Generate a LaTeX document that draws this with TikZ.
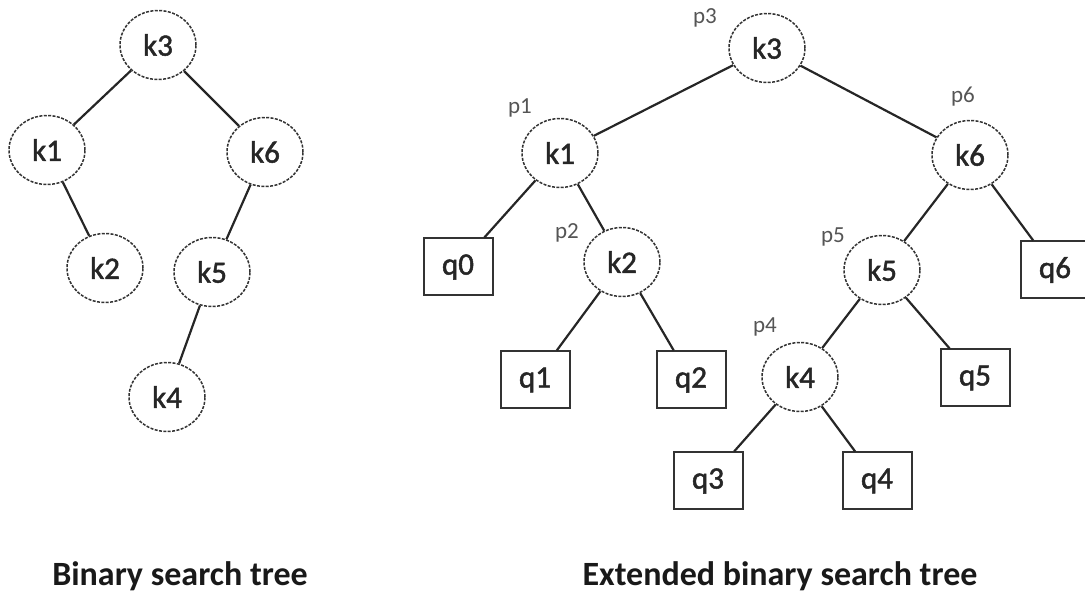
\documentclass[tikz,border=0pt]{standalone}
\usepackage{fontspec}
\setmainfont{Carlito}
\newfontfamily\keyfont[RawFeature={embolden=1.6}]{Carlito}
\usepackage{tikz}
\usetikzlibrary{shapes, positioning}
\definecolor{KEYLINE}{HTML}{333333}
\definecolor{PLAB}{HTML}{555555}
\tikzset{
  KEY/.style={% Style for key (circle) nodes
      ellipse, line width=1.5pt,
      dash pattern=on 3pt off 1.4pt,
      draw=KEYLINE,
      fill=white,
      minimum width=76pt,
      minimum height=69pt,
      inner sep=0pt,
      font=\keyfont\fontsize{31}{31}\selectfont,
      text=black!85,
  },
  EXT/.style={% Style for external (square) nodes
      rectangle, line width=2pt,
      draw=KEYLINE,
      fill=white,
      minimum width=69pt,
      minimum height=57pt,
      inner sep=0pt,
      font=\keyfont\fontsize{31}{31}\selectfont,
      text=black!85,
  },
  PLB/.style={% Style for the small p labels
      inner sep=0pt,
      font=\fontsize{23}{23}\selectfont,
      text=PLAB,
  },
  CAP/.style={% Style for the captions
      inner sep=0pt,
      font=\fontsize{34}{34}\bfseries\selectfont,
      text=black!90,
  },
  EDGE/.style={line width=2.2pt, draw=black!85},
}

\begin{document}
\begin{tikzpicture}[x=1pt, y=-1pt]
  \useasboundingbox (0,0) rectangle (1085,593);
  % Binary search tree
  \foreach \id/\x/\y in {k3/158/45, k1/47/150, k6/265/152, k2/105/268, k5/212/272, k4/167/397}
    \node[KEY] (L\id) at (\x,\y) {\id};
  \foreach \a/\b in {k3/k1, k3/k6, k1/k2, k6/k5, k5/k4}
    \draw[EDGE] (L\a) -- (L\b);
  % Extended binary search tree
  \foreach \id/\x/\y in {k3/767/48, k1/560/153, k6/970/155, k2/622/262, k5/882/270, k4/800/377}
    \node[KEY] (R\id) at (\x,\y) {\id};
  \foreach \id/\x/\y in {q0/458/267, q1/535/380, q2/691/380, q3/708/481, q4/877/481, q5/975/378, q6/1055/270}
    \node[EXT] (R\id) at (\x,\y) {\id};
  \foreach \a/\b in {k3/k1, k3/k6, k1/q0, k1/k2, k2/q1, k2/q2, k6/k5, k6/q6, k5/k4, k5/q5, k4/q3, k4/q4}
    \draw[EDGE] (R\a) -- (R\b);
  \foreach \id/\x/\y in {p3/705/18, p1/520/108, p2/567/233, p6/963/97, p5/833/237, p4/765/327}
    \node[PLB] (\id) at (\x,\y) {\id};
  % captions
  \node[CAP] (capL) at (180,576) {Binary search tree};
  \node[CAP] (capR) at (780,576) {Extended binary search tree};
\end{tikzpicture}
\end{document}
